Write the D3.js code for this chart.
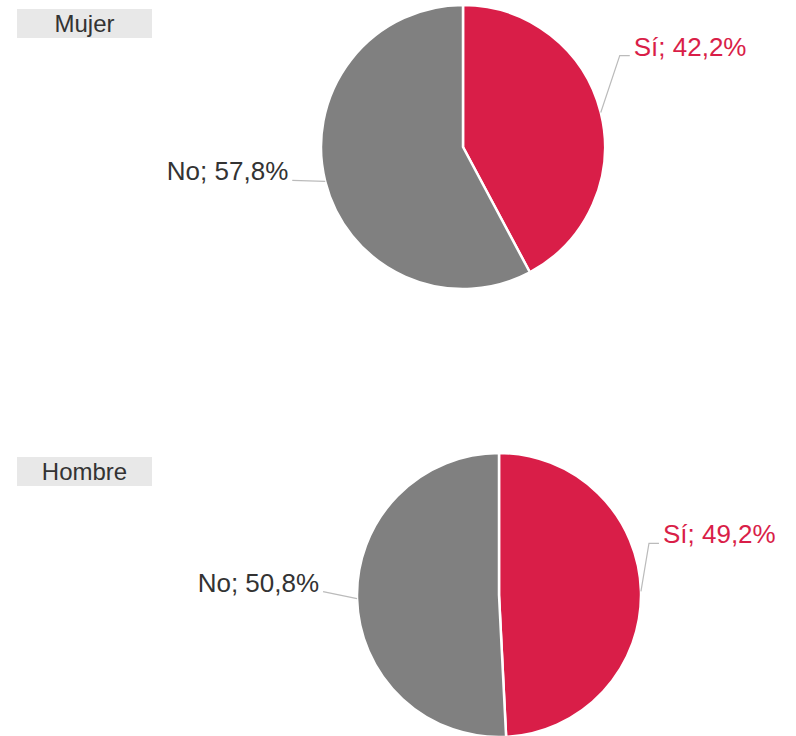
<!DOCTYPE html>
<html>
<head>
<meta charset="utf-8">
<script src="https://cdn.jsdelivr.net/npm/d3@7"></script>
<style>
  body { margin: 0; background: #fff; }
  text { font-family: "Liberation Sans", Arial, sans-serif; }
</style>
</head>
<body>
<div id="chart"></div>
<script>
var width = 796,
    height = 736;

// data
var groups = ["Mujer", "Hombre"];
var categories = ["Sí", "No"];
var values = [
    [42.2, 57.8],
    [49.2, 50.8]
];

var colors = d3.scaleOrdinal()
    .domain(categories)
    .range(["#d91e48", "#808080"]);

// layout of each pie (centre, title box, label elbows)
var layout = [
    { cx: 463, cy: 147, boxY: 9,
      right: { dx: 19, dy: -57 }, left: { dx: -33, dy: -1 } },
    { cx: 499, cy: 595, boxY: 457,
      right: { dx: 8, dy: -48 }, left: { dx: -34, dy: -7 } }
];
var radius = 142;

var svg = d3.select("#chart")
    .append("svg")
    .attr("width", width)
    .attr("height", height);

var pie = d3.pie().sort(null).value(function (d) { return d; });
var arc = d3.arc().innerRadius(0).outerRadius(radius);

var fmt = function (v) { return d3.format(".1f")(v).replace(".", ","); };

groups.forEach(function (g, i) {
    var L = layout[i];

    // title box
    svg.append("rect")
        .attr("x", 17)
        .attr("y", L.boxY)
        .attr("width", 135)
        .attr("height", 29)
        .attr("fill", "#e8e8e8");
    svg.append("text")
        .attr("x", 84.5)
        .attr("y", L.boxY + 23)
        .attr("text-anchor", "middle")
        .attr("font-size", "24px")
        .attr("fill", "#333")
        .text(g);

    var gp = svg.append("g")
        .attr("transform", "translate(" + L.cx + "," + L.cy + ")");

    var arcs = pie(values[i]);

    gp.selectAll("path")
        .data(arcs)
        .enter()
        .append("path")
        .attr("d", arc)
        .attr("fill", function (d, j) { return colors(categories[j]); })
        .attr("stroke", "#fff")
        .attr("stroke-width", 2.5)
        .attr("stroke-linejoin", "round");

    arcs.forEach(function (d, j) {
        var a = (d.startAngle + d.endAngle) / 2;
        var px = radius * Math.sin(a),
            py = -radius * Math.cos(a);
        var isRight = px > 0;
        var off = isRight ? L.right : L.left;
        var ex = px + off.dx,
            ey = py + off.dy;
        var pts;
        if (isRight) {
            pts = [[px, py], [ex, ey], [ex + 10, ey]];
        } else {
            pts = [[px, py], [ex, ey]];
        }
        gp.append("path")
            .attr("d", d3.line()(pts))
            .attr("fill", "none")
            .attr("stroke", "#bbb")
            .attr("stroke-width", 1.2);
        gp.append("text")
            .attr("x", isRight ? ex + 14 : ex - 4)
            .attr("y", ey)
            .attr("text-anchor", isRight ? "start" : "end")
            .attr("font-size", "26px")
            .attr("fill", isRight ? "#d91e48" : "#333")
            .text(categories[j] + "; " + fmt(values[i][j]) + "%");
    });
});
</script>
</body>
</html>
